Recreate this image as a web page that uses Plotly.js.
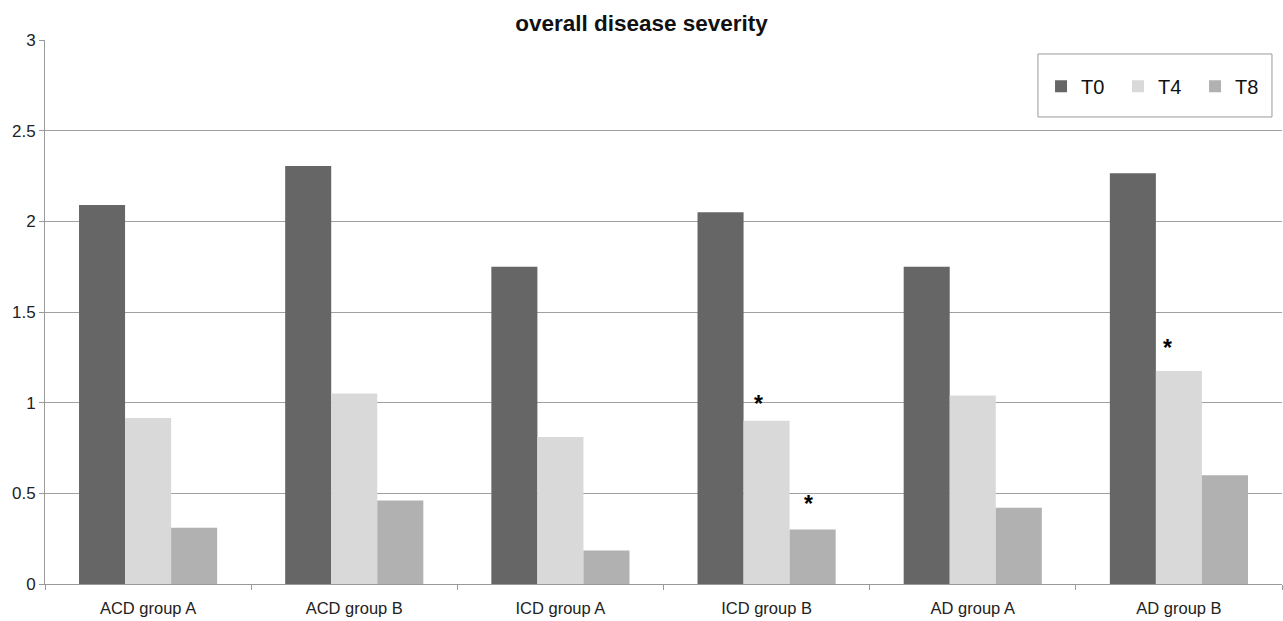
<!DOCTYPE html>
<html>
<head>
<meta charset="utf-8">
<script src="https://cdn.plot.ly/plotly-3.0.1.min.js"></script>
<style>html,body{margin:0;padding:0;background:#fff;}#chart{width:1283px;height:621px;}</style>
</head>
<body>
<div id="chart"></div>
<script>
const categories = ["ACD group A", "ACD group B", "ICD group A", "ICD group B", "AD group A", "AD group B"];
const seriesNames = ["T0", "T4", "T8"];
const T0 = [2.09, 2.305, 1.75, 2.05, 1.75, 2.265];
const T4 = [0.915, 1.05, 0.81, 0.90, 1.04, 1.175];
const T8 = [0.31, 0.46, 0.185, 0.30, 0.42, 0.60];
const yTicks = [0, 0.5, 1, 1.5, 2, 2.5, 3];
const yTickText = ["0", "0.5", "1", "1.5", "2", "2.5", "3"];

const colors = ["#666666", "#d9d9d9", "#b1b1b1"];
const values = [T0, T4, T8];
const font = "Liberation Sans, Arial, sans-serif";

const traces = values.map((v, i) => ({
  type: "bar",
  name: seriesNames[i],
  x: categories,
  y: v,
  marker: {color: colors[i], line: {color: colors[i], width: 0}},
  hoverinfo: "x+y+name"
}));

const stars = [
  {x: categories[3], y: T4[3], xshift: -8, yshift: 2},
  {x: categories[3], y: T8[3], xshift: 42, yshift: 11},
  {x: categories[5], y: T4[5], xshift: -11, yshift: 8}
].map(s => ({
  x: s.x, y: s.y, xref: "x", yref: "y", text: "<b>*</b>", showarrow: false,
  xshift: s.xshift, yshift: s.yshift, yanchor: "bottom",
  font: {family: font, size: 23, color: "#000"}
}));

const layout = {
  width: 1283, height: 621,
  margin: {l: 45, r: 1, t: 40, b: 37},
  paper_bgcolor: "#ffffff",
  plot_bgcolor: "#ffffff",
  title: {text: "<b>overall disease severity</b>", x: 0.5, xanchor: "center", y: 0.962, yanchor: "middle",
          font: {family: font, size: 22.5, color: "#111"}},
  barmode: "group",
  bargap: 0.33,
  bargroupgap: 0,
  showlegend: true,
  legend: {orientation: "h", x: 0.8052, xanchor: "left", y: 0.951, yanchor: "top",
           font: {family: font, size: 20, color: "#111"}, bgcolor: "rgba(0,0,0,0)",
           borderwidth: 0, entrywidth: 32, entrywidthmode: "pixels"},
  xaxis: {
    type: "category",
    showgrid: false,
    showline: true, linecolor: "#999999", linewidth: 1,
    ticks: "outside", tickson: "boundaries", ticklen: 5, tickcolor: "#999999",
    ticklabelstandoff: 9,
    tickfont: {family: font, size: 16.5, color: "#222"},
    fixedrange: true
  },
  yaxis: {
    range: [0, 3],
    tickvals: yTicks, ticktext: yTickText,
    showgrid: true, gridcolor: "#a0a0a0", gridwidth: 1,
    showline: true, linecolor: "#999999", linewidth: 1,
    ticks: "outside", ticklen: 5, tickcolor: "#999999",
    tickfont: {family: font, size: 17, color: "#222"},
    zeroline: false,
    fixedrange: true
  },
  shapes: [
    {type: "rect", xref: "paper", yref: "paper", x0: 0.8027, x1: 0.9919, y0: 0.8585, y1: 0.9743,
     line: {color: "#999999", width: 1}, fillcolor: "rgba(0,0,0,0)"}
  ],
  annotations: stars
};

Plotly.newPlot("chart", traces, layout, {displayModeBar: false, staticPlot: true});
</script>
</body>
</html>
